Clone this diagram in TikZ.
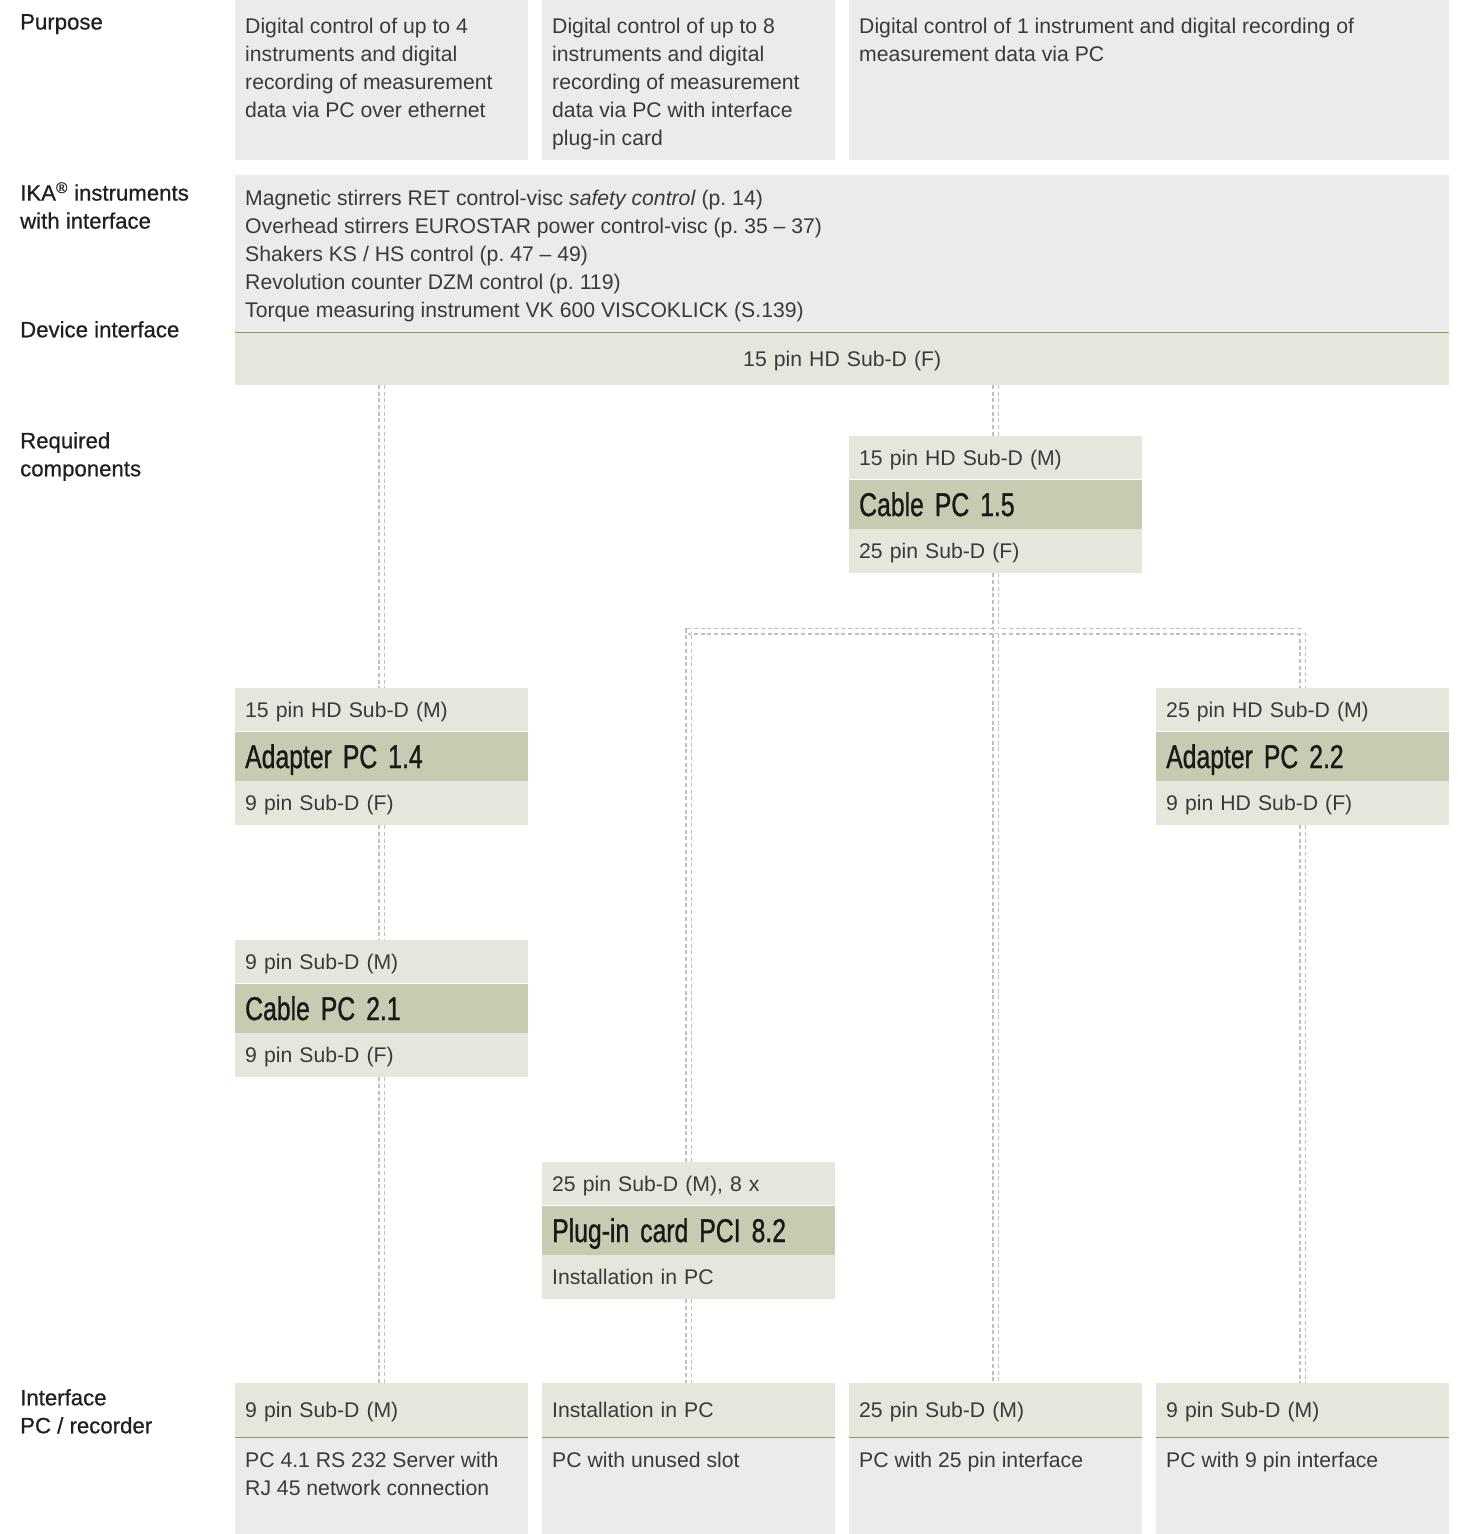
\documentclass[tikz,border=0pt]{standalone}
\usepackage{fontspec}
\setmainfont{Liberation Sans}
\newfontfamily\condfont[FakeStretch=0.75,FakeBold=0.9,WordSpace=0.75]{Liberation Sans}
\newfontfamily\labelfont[FakeBold=0.6]{Liberation Sans}
\usepackage{xcolor}
\usepackage{tikz}
\usetikzlibrary{positioning}
\definecolor{panelgrey}{RGB}{235,235,235}
\definecolor{beige}{RGB}{230,230,221}
\definecolor{bandgreen}{RGB}{200,202,177}
\definecolor{linegreen}{RGB}{140,156,96}
\definecolor{wiregrey}{RGB}{192,192,192}
\definecolor{textgrey}{RGB}{58,58,58}
\newcommand\bodyfont{\fontsize{21.2}{28}\selectfont}
\newcommand\titlefont{\condfont\fontsize{33}{36}\selectfont}
\newcommand\sidefont{\labelfont\fontsize{22.2}{28}\selectfont}

\begin{document}
\begin{tikzpicture}[x=1pt,y=-1pt,
every node/.style={inner sep=0pt,font=\bodyfont,text=textgrey},
panel/.style={fill=panelgrey,anchor=north west},
txt/.style={anchor=north west,align=left},
lbl/.style={anchor=north west,align=left,font=\sidefont,text=black!88},
pinrow/.style={fill=beige,anchor=north west,text width=273pt,inner xsep=10pt,align=left,minimum height=43pt,text depth=-3pt},
cardname/.style={pinrow,fill=bandgreen,minimum height=49pt,font=\titlefont,text=black!90},
wire/.style={draw=wiregrey,line width=1.3pt,double=white,double distance=4.4pt,dash pattern=on 4pt off 2.7pt},
greenrule/.style={draw=linegreen,line width=1.3pt}]
\useasboundingbox (0,0) rectangle (1458,1534);
\node[lbl] (lpurp) at (20,14) {Purpose};
\node[lbl] (linst) at (20,182) {IKA\textsuperscript{®} instruments\\with interface};
\node[lbl] (ldev) at (20,321) {Device interface};
\node[lbl] (lreq) at (20,432) {Required\\components};
\node[lbl] (lpc) at (20,1389) {Interface\\PC / recorder};
\node[panel,minimum width=293pt,minimum height=160pt] (purp1) at (235,0) {};
\node[panel,minimum width=293pt,minimum height=160pt] (purp2) at (542,0) {};
\node[panel,minimum width=600pt,minimum height=160pt] (purp3) at (849,0) {};
\node[txt] (purp1t) at ([shift={(10,18)}]purp1.north west) {Digital control of up to 4\\instruments and digital\\recording of measurement\\data via PC over ethernet};
\node[txt] (purp2t) at ([shift={(10,18)}]purp2.north west) {Digital control of up to 8\\instruments and digital\\recording of measurement\\data via PC with interface\\plug-in card};
\node[txt] (purp3t) at ([shift={(10,18)}]purp3.north west) {Digital control of 1 instrument and digital recording of\\measurement data via PC};
\node[panel,minimum width=1214pt,minimum height=157pt] (inst) at (235,175) {};
\node[txt] (instt) at ([shift={(10,15)}]inst.north west) {Magnetic stirrers RET control-visc \textit{safety control} (p.~14)\\Overhead stirrers EUROSTAR power control-visc (p.~35 – 37)\\Shakers KS / HS control (p.~47 – 49)\\Revolution counter DZM control (p.~119)\\Torque measuring instrument VK 600 VISCOKLICK (S.139)};
\node[pinrow,text width=1214pt,inner xsep=0pt,align=center,minimum height=52pt,below=0pt of inst] (dev) {15 pin HD Sub-D (F)};
\draw[greenrule] (dev.north west) -- (dev.north east);
\node[pinrow] (c15a) at (849,436) {15 pin HD Sub-D (M)};
\node[cardname,below=0pt of c15a] (c15) {Cable PC 1.5};
\node[pinrow,minimum height=44pt,below=0pt of c15] (c15b) {25 pin Sub-D (F)};
\node[pinrow] (ad14a) at (235,688) {15 pin HD Sub-D (M)};
\node[cardname,below=0pt of ad14a] (ad14) {Adapter PC 1.4};
\node[pinrow,minimum height=44pt,below=0pt of ad14] (ad14b) {9 pin Sub-D (F)};
\node[pinrow] (ad22a) at (1156,688) {25 pin HD Sub-D (M)};
\node[cardname,below=0pt of ad22a] (ad22) {Adapter PC 2.2};
\node[pinrow,minimum height=44pt,below=0pt of ad22] (ad22b) {9 pin HD Sub-D (F)};
\node[pinrow] (c21a) at (235,940) {9 pin Sub-D (M)};
\node[cardname,below=0pt of c21a] (c21) {Cable PC 2.1};
\node[pinrow,minimum height=44pt,below=0pt of c21] (c21b) {9 pin Sub-D (F)};
\node[pinrow] (plga) at (542,1162) {25 pin Sub-D (M), 8 x};
\node[cardname,below=0pt of plga] (plg) {Plug-in card PCI 8.2};
\node[pinrow,minimum height=44pt,below=0pt of plg] (plgb) {Installation in PC};
\node[pinrow,minimum height=54pt] (pc1a) at (235,1383) {9 pin Sub-D (M)};
\node[pinrow,minimum height=54pt] (pc2a) at (542,1383) {Installation in PC};
\node[pinrow,minimum height=54pt] (pc3a) at (849,1383) {25 pin Sub-D (M)};
\node[pinrow,minimum height=54pt] (pc4a) at (1156,1383) {9 pin Sub-D (M)};
\node[panel,minimum width=293pt,minimum height=97pt,below=0pt of pc1a] (pc1) {};
\node[panel,minimum width=293pt,minimum height=97pt,below=0pt of pc2a] (pc2) {};
\node[panel,minimum width=293pt,minimum height=97pt,below=0pt of pc3a] (pc3) {};
\node[panel,minimum width=293pt,minimum height=97pt,below=0pt of pc4a] (pc4) {};
\node[txt] (pc1t) at ([shift={(10,15)}]pc1.north west) {PC 4.1 RS 232 Server with\\RJ 45 network connection};
\node[txt] (pc2t) at ([shift={(10,15)}]pc2.north west) {PC with unused slot};
\node[txt] (pc3t) at ([shift={(10,15)}]pc3.north west) {PC with 25 pin interface};
\node[txt] (pc4t) at ([shift={(10,15)}]pc4.north west) {PC with 9 pin interface};
\draw[greenrule] (pc1a.south west) -- (pc1a.south east);\draw[greenrule] (pc2a.south west) -- (pc2a.south east);
\draw[greenrule] (pc3a.south west) -- (pc3a.south east);\draw[greenrule] (pc4a.south west) -- (pc4a.south east);
\coordinate (split) at ([yshift=-58pt]c15b.south);
\draw[wire] (ad14a.north |- dev.south) -- (ad14a.north);
\draw[wire] (ad14b.south) -- (c21a.north);
\draw[wire] (c21b.south) -- (pc1a.north);
\draw[wire] (c15a.north |- dev.south) -- (c15a.north);
\draw[wire] (c15b.south) -- (pc3a.north) (plga.north) |- (split) -| (ad22a.north);
\draw[wire] (plgb.south) -- (pc2a.north);
\draw[wire] (ad22b.south) -- (pc4a.north);
\end{tikzpicture}
\end{document}
